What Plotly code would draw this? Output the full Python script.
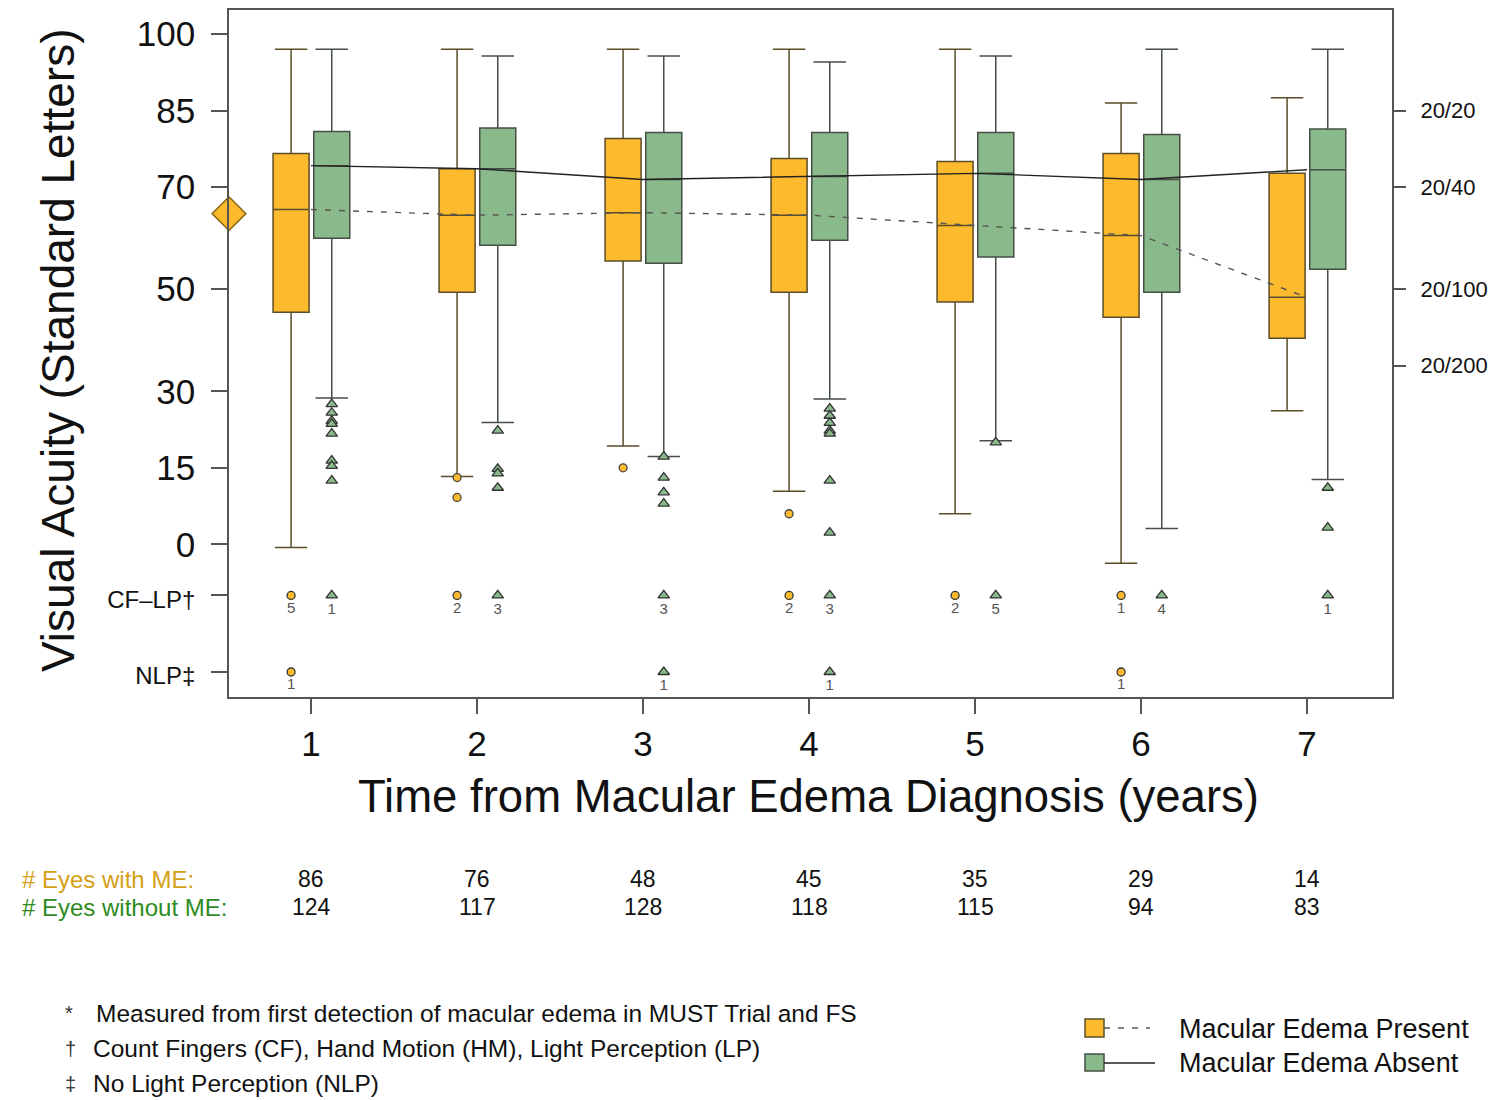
import plotly.graph_objects as go

# ---------------- data ----------------
years = [1, 2, 3, 4, 5, 6, 7]
year_labels = ["1", "2", "3", "4", "5", "6", "7"]

# Macular edema present (orange)
me_upper = [97.0, 97.0, 97.0, 97.0, 97.0, 86.5, 87.5]
me_q3 = [76.6, 73.6, 79.5, 75.6, 75.0, 76.6, 72.7]
me_med = [65.6, 64.5, 65.0, 64.5, 62.5, 60.5, 48.4]
me_q1 = [45.5, 49.4, 55.5, 49.4, 47.5, 44.5, 40.4]
me_lower = [-0.6, 13.3, 19.3, 10.4, 6.0, -3.7, 26.2]

# Macular edema absent (green)
no_upper = [97.0, 95.7, 95.7, 94.5, 95.7, 97.0, 97.0]
no_q3 = [80.9, 81.6, 80.7, 80.7, 80.7, 80.3, 81.4]
no_med = [74.2, 73.6, 71.5, 72.1, 72.7, 71.5, 73.4]
no_q1 = [60.0, 58.6, 55.1, 59.6, 56.3, 49.4, 53.9]
no_lower = [28.7, 23.9, 17.2, 28.5, 20.3, 3.1, 12.7]

# outliers (letters)
me_outliers = [[], [13.1, 9.2], [15.0], [6.0], [], [], []]
no_outliers = [
    [27.5, 25.8, 24.2, 23.6, 21.7, 16.4, 15.4, 12.5],
    [22.3, 14.8, 13.9, 11.1],
    [17.2, 13.1, 10.2, 8.0],
    [26.6, 25.2, 23.8, 22.3, 21.7, 12.5, 2.3],
    [20.0],
    [],
    [11.1, 3.3],
]

# counts at CF-LP and NLP (0 = none)
me_cflp = [5, 2, 0, 2, 2, 1, 0]
no_cflp = [1, 3, 3, 3, 5, 4, 1]
me_nlp = [1, 0, 0, 0, 0, 1, 0]
no_nlp = [0, 0, 1, 1, 0, 0, 0]

baseline_va = 64.8

eyes_with_me = [86, 76, 48, 45, 35, 29, 14]
eyes_without_me = [124, 117, 128, 118, 115, 94, 83]

y_tickvals = [100, 85, 70, 50, 30, 15, 0, -10, -25]
y_ticktext = ["100", "85", "70", "50", "30", "15", "0",
              "<span style='font-size:24px'>CF–LP†</span>",
              "<span style='font-size:24px'>NLP‡</span>"]
snellen_vals = [85, 70, 50, 35]
snellen_text = ["20/20", "20/40", "20/100", "20/200"]
CFLP_Y = -10
NLP_Y = -25

# ---------------- style ----------------
ORANGE = "#FDBA2C"
GREEN = "#8AB98B"
FONT = "Liberation Sans, Arial, Helvetica, sans-serif"
OFF_ME = -0.12
OFF_NO = 0.125
BOXW = 0.217

# page body has an 8px margin; figure is sized/placed to compensate
PAGE_OFF = 8
W, H = 1492, 1092
PLOT_L, PLOT_R, PLOT_T, PLOT_B = 229, 1392, 8, 697   # page pixel coords
L = PLOT_L - PAGE_OFF
T = PLOT_T - PAGE_OFF
R = W - (PLOT_R - PAGE_OFF)
B = H - (PLOT_B - PAGE_OFF)
PW, PH = PLOT_R - PLOT_L, PLOT_B - PLOT_T


def px(xp, yp):
    return (xp - PLOT_L) / PW, (PLOT_B - yp) / PH


fig = go.Figure()

xs_me = [y + OFF_ME for y in years]
xs_no = [y + OFF_NO for y in years]

fig.add_trace(go.Box(
    x=xs_me, q1=me_q1, median=me_med, q3=me_q3,
    lowerfence=me_lower, upperfence=me_upper,
    width=BOXW, whiskerwidth=0.9, fillcolor=ORANGE,
    line=dict(color="#5a4d2a", width=1.5), boxpoints=False,
    showlegend=False, hoverinfo="skip"))
fig.add_trace(go.Box(
    x=xs_no, q1=no_q1, median=no_med, q3=no_q3,
    lowerfence=no_lower, upperfence=no_upper,
    width=BOXW, whiskerwidth=0.9, fillcolor=GREEN,
    line=dict(color="#454f45", width=1.5), boxpoints=False,
    showlegend=False, hoverinfo="skip"))

# median trend lines
fig.add_trace(go.Scatter(x=years, y=me_med, mode="lines",
                         line=dict(color="#555555", width=1.4, dash="6px,8px"),
                         showlegend=False, hoverinfo="skip"))
fig.add_trace(go.Scatter(x=years, y=no_med, mode="lines",
                         line=dict(color="#222222", width=1.4),
                         showlegend=False, hoverinfo="skip"))

# outliers
ox, oy = [], []
for yr, vals in zip(years, me_outliers):
    for v in vals:
        ox.append(yr + OFF_ME)
        oy.append(v)
fig.add_trace(go.Scatter(x=ox, y=oy, mode="markers",
                         marker=dict(symbol="circle", size=8, color=ORANGE,
                                     line=dict(color="#444", width=1.3)),
                         showlegend=False, hoverinfo="skip"))
tx, ty = [], []
for yr, vals in zip(years, no_outliers):
    for v in vals:
        tx.append(yr + OFF_NO)
        ty.append(v)
fig.add_trace(go.Scatter(x=tx, y=ty, mode="markers",
                         marker=dict(symbol="triangle-up", size=10, color=GREEN,
                                     line=dict(color="#333", width=1.3)),
                         showlegend=False, hoverinfo="skip"))


def count_trace(counts, off, level, symbol, color, size):
    xx, yy, tt = [], [], []
    for yr, c in zip(years, counts):
        if c > 0:
            xx.append(yr + off)
            yy.append(level)
            tt.append(str(c))
    return go.Scatter(x=xx, y=yy, mode="markers+text", text=tt,
                      textposition="bottom center",
                      textfont=dict(size=15, color="#555", family=FONT),
                      marker=dict(symbol=symbol, size=size, color=color,
                                  line=dict(color="#333", width=1.3)),
                      showlegend=False, hoverinfo="skip")


fig.add_trace(count_trace(me_cflp, OFF_ME, CFLP_Y, "circle", ORANGE, 8))
fig.add_trace(count_trace(no_cflp, OFF_NO, CFLP_Y, "triangle-up", GREEN, 10))
fig.add_trace(count_trace(me_nlp, OFF_ME, NLP_Y, "circle", ORANGE, 8))
fig.add_trace(count_trace(no_nlp, OFF_NO, NLP_Y, "triangle-up", GREEN, 10))

# baseline diamond
fig.add_trace(go.Scatter(x=[0.506], y=[baseline_va], mode="markers",
                         marker=dict(symbol="diamond", size=26, color=ORANGE,
                                     line=dict(color="#8a6a10", width=1.5)),
                         cliponaxis=False, showlegend=False, hoverinfo="skip"))

# right-side Snellen axis helper trace
fig.add_trace(go.Scatter(x=[None], y=[None], yaxis="y2", showlegend=False))

YRANGE = [-29.9, 104.7]
fig.update_layout(
    width=W, height=H,
    margin=dict(l=L, r=R, t=T, b=B, pad=0),
    paper_bgcolor="white", plot_bgcolor="white",
    boxmode="overlay",
    font=dict(family=FONT, color="#111"),
    xaxis=dict(range=[0.506, 7.512], tickvals=years, ticktext=year_labels,
               ticks="outside", ticklen=15, tickwidth=1.5, tickcolor="#555",
               showline=True, linecolor="#555", linewidth=1.5, mirror=True,
               showgrid=False, zeroline=False, ticklabelstandoff=0,
               tickfont=dict(size=35, color="#111")),
    yaxis=dict(range=YRANGE, tickvals=y_tickvals, ticktext=y_ticktext,
               ticks="outside", ticklen=16, tickwidth=1.5, tickcolor="#555",
               showline=True, linecolor="#555", linewidth=1.5, mirror=True,
               showgrid=False, zeroline=False, ticklabelstandoff=9,
               tickfont=dict(size=35, color="#111")),
    yaxis2=dict(range=YRANGE, overlaying="y", side="right",
                tickvals=snellen_vals, ticktext=snellen_text,
                ticks="outside", ticklen=13, tickwidth=1.5, tickcolor="#555",
                showline=False, showgrid=False, zeroline=False,
                ticklabelstandoff=10,
                tickfont=dict(size=22, color="#111")),
)

ann = []
# axis titles
ax_, ay_ = px(58, 350)
ann.append(dict(x=ax_, y=ay_, xref="paper", yref="paper", text="Visual Acuity (Standard Letters)",
                textangle=-90, showarrow=False, font=dict(size=46, color="#111"),
                xanchor="center", yanchor="middle"))
bx_, by_ = px(808, 797)
ann.append(dict(x=bx_, y=by_, xref="paper", yref="paper",
                text="Time from Macular Edema Diagnosis (years)",
                showarrow=False, font=dict(size=45.5, color="#111"),
                xanchor="center", yanchor="middle"))

# eye counts table
_, yr1 = px(0, 880)
_, yr2 = px(0, 908)
lx, _ = px(20, 0)
ann.append(dict(x=lx, y=yr1, xref="paper", yref="paper", text="# Eyes with ME:",
                showarrow=False, xanchor="left", yanchor="middle",
                font=dict(size=24, color="#D4A017")))
ann.append(dict(x=lx, y=yr2, xref="paper", yref="paper", text="# Eyes without ME:",
                showarrow=False, xanchor="left", yanchor="middle",
                font=dict(size=24, color="#2E8B22")))
for yr, a, b in zip(years, eyes_with_me, eyes_without_me):
    ann.append(dict(x=yr, y=yr1, xref="x", yref="paper", text=str(a), showarrow=False,
                    xanchor="center", yanchor="middle", font=dict(size=23, color="#111")))
    ann.append(dict(x=yr, y=yr2, xref="x", yref="paper", text=str(b), showarrow=False,
                    xanchor="center", yanchor="middle", font=dict(size=23, color="#111")))

# footnotes
notes = [("*", "Measured from first detection of macular edema in MUST Trial and FS", 1014),
         ("†", "Count Fingers (CF), Hand Motion (HM), Light Perception (LP)", 1050),
         ("‡", "No Light Perception (NLP)", 1085)]
for sym, txt, yp in notes:
    sx, sy = px(63, yp)
    ann.append(dict(x=sx, y=sy, xref="paper", yref="paper", text=sym, showarrow=False,
                    xanchor="left", yanchor="middle", font=dict(size=20, color="#333")))
    tx_, _ = px(94 if sym == "*" else 91, yp)
    ann.append(dict(x=tx_, y=sy, xref="paper", yref="paper", text=txt, showarrow=False,
                    xanchor="left", yanchor="middle", font=dict(size=24.5, color="#111")))

# legend texts
for txt, yp in [("Macular Edema Present", 1030), ("Macular Edema Absent", 1064)]:
    lx2, ly2 = px(1177, yp)
    ann.append(dict(x=lx2, y=ly2, xref="paper", yref="paper", text=txt, showarrow=False,
                    xanchor="left", yanchor="middle", font=dict(size=27, color="#111")))

fig.update_layout(annotations=ann)

# legend glyphs
shapes = []
x0, y0 = px(1085, 1020)
x1, y1 = px(1104, 1038)
shapes.append(dict(type="rect", xref="paper", yref="paper", x0=x0, y0=y0, x1=x1, y1=y1,
                   fillcolor=ORANGE, line=dict(color="#5a4d2a", width=1.5)))
a0, ay = px(1104, 1029)
a1, _ = px(1150, 1029)
shapes.append(dict(type="line", xref="paper", yref="paper", x0=a0, y0=ay, x1=a1, y1=ay,
                   line=dict(color="#555", width=1.5, dash="6px,8px")))
x0, y0 = px(1085, 1055)
x1, y1 = px(1104, 1072)
shapes.append(dict(type="rect", xref="paper", yref="paper", x0=x0, y0=y0, x1=x1, y1=y1,
                   fillcolor=GREEN, line=dict(color="#454f45", width=1.5)))
a0, ay = px(1104, 1064)
a1, _ = px(1155, 1064)
shapes.append(dict(type="line", xref="paper", yref="paper", x0=a0, y0=ay, x1=a1, y1=ay,
                   line=dict(color="#222", width=1.5)))
fig.update_layout(shapes=shapes)

fig.write_html("out.html")
